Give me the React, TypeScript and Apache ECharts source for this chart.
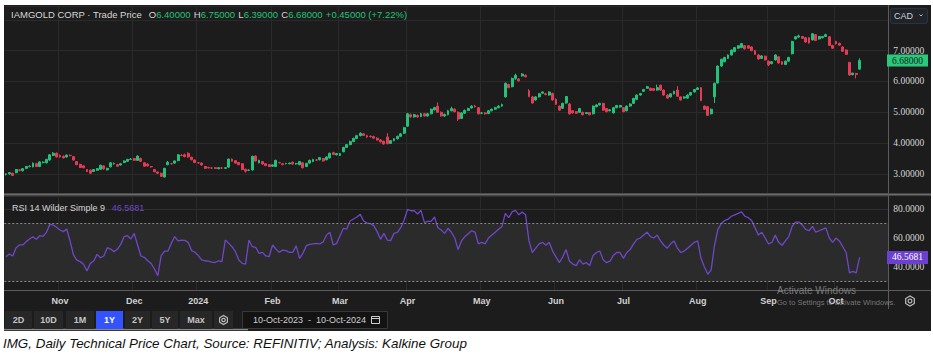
import React, { useEffect, useRef } from 'react';
import * as echarts from 'echarts';

// ---------------- data ----------------
const START = [2023, 9, 10];
const END = [2024, 9, 10];
const PAD_DAYS = 8;
const HOLIDAYS = ['2023-12-25', '2023-12-26', '2024-01-01', '2024-02-19', '2024-03-29', '2024-05-20', '2024-07-01', '2024-08-05', '2024-09-02'];
const MONTH_NAMES = ['Jan', 'Feb', 'Mar', 'Apr', 'May', 'Jun', 'Jul', 'Aug', 'Sep', 'Oct', 'Nov', 'Dec'];

// [open, close, low, high]
const ohlc: number[][] = [
  [2.98, 3.00, 2.95, 3.02], [3.00, 3.04, 2.98, 3.06], [3.02, 2.95, 2.93, 3.04], [3.04, 3.14, 3.02, 3.16], [3.13, 3.12, 3.08, 3.16],
  [3.10, 3.17, 3.08, 3.19], [3.18, 3.24, 3.15, 3.26], [3.24, 3.25, 3.21, 3.28], [3.23, 3.35, 3.21, 3.37], [3.33, 3.24, 3.22, 3.36],
  [3.24, 3.39, 3.22, 3.41], [3.37, 3.38, 3.34, 3.41], [3.36, 3.47, 3.34, 3.49], [3.45, 3.62, 3.43, 3.64], [3.60, 3.67, 3.58, 3.71],
  [3.67, 3.55, 3.53, 3.70], [3.60, 3.55, 3.53, 3.63], [3.57, 3.52, 3.50, 3.60], [3.55, 3.61, 3.53, 3.63], [3.60, 3.60, 3.57, 3.63],
  [3.56, 3.45, 3.43, 3.58], [3.40, 3.30, 3.28, 3.42], [3.31, 3.21, 3.19, 3.33], [3.26, 3.20, 3.18, 3.28], [3.14, 3.08, 3.06, 3.16],
  [3.12, 3.02, 3.00, 3.14], [3.08, 3.14, 3.06, 3.16], [3.12, 3.17, 3.10, 3.19], [3.15, 3.28, 3.13, 3.30], [3.26, 3.16, 3.14, 3.28],
  [3.13, 3.18, 3.11, 3.20], [3.23, 3.36, 3.21, 3.38], [3.33, 3.34, 3.30, 3.37], [3.30, 3.25, 3.23, 3.32], [3.29, 3.33, 3.27, 3.35],
  [3.37, 3.42, 3.35, 3.44], [3.41, 3.47, 3.39, 3.49], [3.47, 3.48, 3.45, 3.51], [3.50, 3.44, 3.42, 3.52], [3.44, 3.58, 3.42, 3.60],
  [3.50, 3.41, 3.39, 3.53], [3.36, 3.25, 3.23, 3.38], [3.32, 3.26, 3.24, 3.34], [3.24, 3.23, 3.20, 3.26], [3.14, 3.07, 3.05, 3.16],
  [3.06, 3.02, 3.00, 3.08], [3.02, 2.92, 2.90, 3.04], [2.90, 3.18, 2.88, 3.20], [3.30, 3.38, 3.28, 3.42], [3.33, 3.33, 3.30, 3.36],
  [3.35, 3.42, 3.33, 3.44], [3.43, 3.62, 3.41, 3.64], [3.60, 3.60, 3.57, 3.64], [3.62, 3.56, 3.54, 3.66], [3.67, 3.55, 3.53, 3.70],
  [3.54, 3.46, 3.44, 3.56], [3.45, 3.37, 3.35, 3.47], [3.36, 3.36, 3.33, 3.39], [3.35, 3.29, 3.27, 3.37], [3.24, 3.18, 3.16, 3.26],
  [3.21, 3.20, 3.17, 3.23], [3.19, 3.19, 3.16, 3.22], [3.20, 3.18, 3.16, 3.22], [3.17, 3.20, 3.15, 3.22], [3.19, 3.19, 3.16, 3.22],
  [3.18, 3.20, 3.16, 3.22], [3.22, 3.48, 3.20, 3.50], [3.48, 3.41, 3.39, 3.50], [3.43, 3.35, 3.33, 3.45], [3.37, 3.30, 3.28, 3.39],
  [3.33, 3.14, 3.12, 3.35], [3.15, 3.09, 3.04, 3.17], [3.12, 3.12, 3.09, 3.15], [3.13, 3.57, 3.11, 3.59], [3.58, 3.42, 3.40, 3.60],
  [3.36, 3.44, 3.34, 3.46], [3.40, 3.32, 3.30, 3.42], [3.33, 3.27, 3.25, 3.35], [3.30, 3.24, 3.22, 3.32], [3.25, 3.29, 3.23, 3.31],
  [3.24, 3.44, 3.22, 3.46], [3.37, 3.36, 3.34, 3.39], [3.33, 3.30, 3.28, 3.35], [3.33, 3.34, 3.31, 3.36], [3.33, 3.35, 3.31, 3.37],
  [3.38, 3.32, 3.30, 3.40], [3.33, 3.33, 3.30, 3.36], [3.30, 3.40, 3.28, 3.42], [3.36, 3.20, 3.18, 3.38], [3.24, 3.34, 3.22, 3.36],
  [3.35, 3.44, 3.33, 3.46], [3.40, 3.47, 3.38, 3.49], [3.45, 3.45, 3.42, 3.48], [3.46, 3.53, 3.44, 3.55], [3.50, 3.42, 3.40, 3.52],
  [3.46, 3.55, 3.44, 3.57], [3.52, 3.67, 3.50, 3.69], [3.69, 3.63, 3.61, 3.72], [3.62, 3.66, 3.60, 3.68], [3.60, 3.66, 3.58, 3.68],
  [3.72, 3.86, 3.70, 3.88], [3.86, 3.95, 3.84, 3.97], [3.95, 4.05, 3.93, 4.08], [4.05, 4.15, 4.03, 4.18], [4.15, 4.24, 4.13, 4.27],
  [4.24, 4.32, 4.22, 4.35], [4.30, 4.25, 4.23, 4.33], [4.24, 4.20, 4.17, 4.27], [4.22, 4.21, 4.18, 4.25], [4.21, 4.16, 4.14, 4.24],
  [4.16, 4.10, 4.08, 4.19], [4.10, 4.04, 4.02, 4.13], [4.06, 3.97, 3.95, 4.08], [4.20, 3.98, 3.96, 4.32], [3.99, 4.08, 3.97, 4.10],
  [4.08, 4.14, 4.06, 4.16], [4.14, 4.22, 4.12, 4.24], [4.22, 4.30, 4.20, 4.33], [4.32, 4.50, 4.30, 4.53], [4.55, 4.95, 4.53, 4.98],
  [4.92, 4.85, 4.83, 4.96], [4.85, 4.92, 4.83, 4.95], [4.90, 4.85, 4.82, 4.93], [4.86, 4.95, 4.84, 4.98], [4.95, 4.88, 4.86, 4.98],
  [4.88, 4.95, 4.86, 4.98], [4.95, 5.10, 4.93, 5.12], [5.08, 5.15, 5.06, 5.18], [5.20, 5.00, 4.98, 5.32], [5.00, 4.88, 4.86, 5.03],
  [4.88, 4.93, 4.85, 4.96], [4.92, 5.05, 4.90, 5.08], [5.05, 5.12, 5.03, 5.18], [5.10, 5.02, 5.00, 5.13], [5.00, 4.78, 4.72, 5.03],
  [4.80, 4.98, 4.78, 5.00], [4.97, 5.06, 4.95, 5.09], [5.06, 5.12, 5.04, 5.15], [5.14, 5.20, 5.12, 5.23], [5.20, 5.18, 5.15, 5.24],
  [5.15, 4.95, 4.93, 5.17], [4.97, 4.98, 4.94, 5.01], [4.98, 4.95, 4.92, 5.01], [4.96, 5.05, 4.94, 5.07], [5.05, 5.10, 5.03, 5.12],
  [5.10, 5.15, 5.08, 5.18], [5.15, 5.20, 5.13, 5.23], [5.20, 5.25, 5.18, 5.28], [5.50, 5.94, 5.48, 5.97], [5.90, 5.80, 5.78, 5.93],
  [5.83, 6.10, 5.81, 6.13], [6.10, 6.20, 6.05, 6.25], [6.08, 6.02, 6.00, 6.11], [6.18, 6.24, 6.16, 6.27], [6.20, 6.15, 6.13, 6.23],
  [5.70, 5.51, 5.49, 5.75], [5.50, 5.30, 5.28, 5.53], [5.40, 5.50, 5.38, 5.52], [5.50, 5.60, 5.48, 5.62], [5.62, 5.66, 5.60, 5.68],
  [5.60, 5.58, 5.55, 5.63], [5.56, 5.66, 5.54, 5.68], [5.61, 5.40, 5.38, 5.64], [5.42, 5.26, 5.24, 5.45], [5.20, 5.07, 5.05, 5.22],
  [5.13, 5.29, 5.11, 5.31], [5.30, 5.51, 5.28, 5.53], [5.27, 4.95, 4.93, 5.30], [5.05, 4.98, 4.96, 5.07], [5.02, 4.97, 4.95, 5.04],
  [5.00, 5.12, 4.98, 5.14], [5.00, 4.92, 4.90, 5.02], [4.96, 4.99, 4.94, 5.01], [4.99, 4.92, 4.90, 5.01], [4.95, 5.20, 4.93, 5.22],
  [5.18, 5.24, 5.16, 5.26], [5.24, 5.29, 5.22, 5.31], [5.29, 5.07, 5.05, 5.31], [5.12, 5.02, 5.00, 5.14], [5.05, 5.08, 5.03, 5.10],
  [4.98, 5.15, 4.96, 5.17], [5.15, 5.22, 5.13, 5.24], [5.17, 5.22, 5.15, 5.24], [5.15, 5.02, 5.00, 5.17], [5.05, 5.20, 5.03, 5.22],
  [5.20, 5.27, 5.18, 5.29], [5.29, 5.45, 5.27, 5.47], [5.42, 5.56, 5.40, 5.58], [5.56, 5.61, 5.54, 5.63], [5.68, 5.74, 5.66, 5.76],
  [5.78, 5.83, 5.76, 5.86], [5.78, 5.71, 5.69, 5.80], [5.77, 5.71, 5.69, 5.79], [5.72, 5.80, 5.70, 5.90], [5.88, 5.72, 5.70, 5.90],
  [5.72, 5.56, 5.54, 5.74], [5.56, 5.46, 5.44, 5.58], [5.50, 5.60, 5.48, 5.62], [5.60, 5.68, 5.58, 5.70], [5.72, 5.52, 5.50, 5.85],
  [5.50, 5.40, 5.38, 5.52], [5.46, 5.50, 5.44, 5.52], [5.46, 5.56, 5.44, 5.58], [5.56, 5.64, 5.54, 5.66], [5.66, 5.74, 5.64, 5.76],
  [5.74, 5.79, 5.72, 5.82], [5.80, 5.38, 5.36, 5.82], [5.20, 5.10, 5.08, 5.22], [5.18, 4.90, 4.88, 5.20], [4.95, 5.10, 4.93, 5.12],
  [5.50, 5.94, 5.30, 5.96], [5.95, 6.50, 5.93, 6.52], [6.50, 6.72, 6.48, 6.74], [6.64, 6.78, 6.62, 6.80], [6.75, 6.86, 6.73, 6.88],
  [6.86, 7.02, 6.84, 7.04], [6.97, 7.10, 6.95, 7.12], [7.08, 7.16, 7.06, 7.18], [7.10, 7.23, 7.08, 7.25], [7.16, 7.06, 7.04, 7.18],
  [7.16, 7.08, 7.06, 7.18], [7.12, 7.00, 6.98, 7.14], [7.00, 6.88, 6.86, 7.02], [6.86, 6.73, 6.71, 6.88], [6.75, 6.83, 6.73, 6.85],
  [6.82, 6.70, 6.68, 6.84], [6.66, 6.54, 6.50, 6.68], [6.58, 6.64, 6.56, 6.66], [6.70, 6.86, 6.68, 6.88], [6.80, 6.60, 6.58, 6.82],
  [6.64, 6.56, 6.54, 6.66], [6.55, 6.66, 6.53, 6.68], [6.66, 6.78, 6.64, 6.80], [6.90, 7.30, 6.88, 7.32], [7.38, 7.45, 7.36, 7.47],
  [7.44, 7.48, 7.42, 7.52], [7.46, 7.40, 7.38, 7.48], [7.42, 7.28, 7.26, 7.44], [7.42, 7.25, 7.23, 7.44], [7.35, 7.55, 7.33, 7.57],
  [7.52, 7.33, 7.31, 7.54], [7.38, 7.46, 7.36, 7.48], [7.42, 7.46, 7.40, 7.48], [7.46, 7.52, 7.44, 7.55], [7.45, 7.17, 7.15, 7.47],
  [7.17, 7.08, 7.06, 7.19], [7.30, 7.22, 7.20, 7.32], [7.24, 7.18, 7.16, 7.26], [7.12, 6.98, 6.96, 7.14], [7.02, 6.88, 6.86, 7.04],
  [6.62, 6.21, 6.19, 6.64], [6.22, 6.27, 6.20, 6.29], [6.26, 6.23, 6.10, 6.28], [6.40, 6.68, 6.39, 6.75],
];

const rsi: number[] = [
  47.1, 49.0, 47.6, 53.3, 55.2, 55.2, 57.5, 59.3, 60.9, 59.1,
  61.6, 61.1, 63.9, 69.4, 69.0, 67.4, 65.5, 64.4, 66.2, 57.9,
  48.3, 44.8, 43.7, 41.9, 37.2, 42.5, 44.1, 48.7, 46.4, 47.6,
  53.3, 52.4, 50.6, 52.2, 55.6, 60.9, 61.6, 59.3, 63.2, 55.2,
  47.6, 46.7, 44.3, 42.5, 38.6, 34.0, 47.8, 51.0, 51.0, 56.3,
  61.0, 58.0, 58.6, 58.4, 57.0, 51.3, 50.2, 47.9, 44.9, 44.3,
  44.0, 43.3, 43.1, 44.3, 43.7, 58.6, 56.3, 54.0, 50.6, 44.8,
  42.5, 42.0, 58.6, 54.0, 53.6, 49.4, 50.1, 47.6, 47.1, 55.2,
  52.4, 50.1, 51.7, 51.3, 50.1, 50.1, 54.7, 46.0, 49.4, 54.7,
  55.6, 55.9, 56.3, 55.9, 57.3, 62.1, 63.9, 55.2, 56.3, 61.6,
  66.7, 66.2, 71.7, 73.1, 74.5, 76.3, 71.7, 70.3, 69.9, 68.5,
  64.4, 59.1, 63.2, 58.6, 58.2, 63.2, 63.9, 67.1, 72.4, 79.7,
  78.8, 78.8, 76.6, 79.1, 70.8, 71.5, 71.5, 74.5, 67.1, 65.5,
  63.2, 66.7,
  64, 60, 52, 58, 61, 63, 65, 64, 56, 57,
  56, 60, 62, 64, 66, 68, 77, 74, 78, 79,
  76, 78, 76, 58, 50, 53, 56, 57, 55, 57,
  51, 47, 43, 47, 52, 44, 42, 41, 45, 42,
  43, 41, 48, 50, 51, 45, 43, 44, 48, 50,
  50, 46, 50, 52, 56, 59, 60, 62, 64, 61,
  60, 62, 58, 55, 53, 56, 58, 53, 50, 51,
  53, 55, 57, 58, 46, 40, 35, 38, 55, 66,
  70, 72, 73, 75, 76, 77, 78, 75, 74, 72,
  67, 62, 64, 60, 56, 57, 62, 57, 55, 58,
  61, 68, 71, 71, 69, 66, 65, 68, 64, 65,
  66, 67, 60, 57, 60, 58, 54, 50, 36, 37,
  36, 46.5681,
];

const RANGE_BUTTONS = ['2D', '10D', '1M', '1Y', '2Y', '5Y', 'Max'];
const ACTIVE_RANGE = '1Y';

// ---------------- helpers ----------------
function buildDates(): string[] {
  const out: string[] = [];
  const d = new Date(Date.UTC(START[0], START[1], START[2]));
  const end = new Date(Date.UTC(END[0], END[1], END[2]));
  let pad = 0;
  while (d <= end || pad < PAD_DAYS) {
    const s = d.toISOString().slice(0, 10);
    const dow = d.getUTCDay();
    if (dow !== 0 && dow !== 6 && !HOLIDAYS.includes(s)) {
      if (d > end) pad++;
      out.push(s);
    }
    d.setUTCDate(d.getUTCDate() + 1);
  }
  return out;
}

const UP = '#22c27a';
const DOWN = '#e63b55';
const PURPLE = '#6e47c9';
const BG = '#1c1c1c';
const SANS = '"Liberation Sans", Arial, sans-serif';
const SERIF = '"Liberation Serif", "Times New Roman", serif';

export default function App() {
  const ref = useRef<HTMLDivElement>(null);

  useEffect(() => {
    document.body.style.margin = '0';
    document.body.style.background = '#ffffff';
    const chart = echarts.init(ref.current!, null, { renderer: 'svg' });

    const dates = buildDates();
    const isMonthStart = (i: number) => i > 0 && i < dates.length && dates[i].slice(0, 7) !== dates[i - 1].slice(0, 7);
    const monthLabel = (v: string) => {
      const m = Number(v.slice(5, 7));
      return m === 1 ? v.slice(0, 4) : MONTH_NAMES[m - 1];
    };

    const last = ohlc[ohlc.length - 1];
    const prevClose = ohlc[ohlc.length - 2][1];
    const chg = last[1] - prevClose;
    const pct = (chg / prevClose) * 100;
    const lastRsi = rsi[rsi.length - 1];

    const GRID_LEFT = 4.3;
    const GRID_W = 884;

    const xBase = {
      type: 'category' as const,
      data: dates,
      boundaryGap: true,
      axisLine: { show: false },
      axisTick: { show: false },
      splitLine: { show: true, interval: (i: number) => isMonthStart(i), lineStyle: { color: '#2a2a2a', width: 1 } },
    };

    const option: any = {
      animation: false,
      backgroundColor: '#ffffff',
      grid: [
        { left: GRID_LEFT, top: 6, width: GRID_W, height: 187 },
        { left: GRID_LEFT, top: 196, width: GRID_W, height: 94 },
      ],
      xAxis: [
        { ...xBase, gridIndex: 0, axisLabel: { show: false } },
        {
          ...xBase,
          gridIndex: 1,
          axisLabel: {
            show: true,
            interval: (i: number) => isMonthStart(i),
            formatter: monthLabel,
            color: '#d2d2d2',
            fontSize: 9,
            fontWeight: 'bold',
            fontFamily: SANS,
            margin: 6,
          },
        },
      ],
      yAxis: [
        {
          type: 'value',
          gridIndex: 0,
          position: 'right',
          min: 2.38,
          max: 8.45,
          minInterval: 1,
          maxInterval: 1,
          axisLine: { show: false },
          axisTick: { show: false },
          splitLine: { lineStyle: { color: '#2a2a2a' } },
          axisLabel: {
            showMinLabel: false,
            showMaxLabel: false,
            formatter: (v: number) => (v > 7.5 ? '' : v.toFixed(5)),
            color: '#d6d6d6',
            fontFamily: SERIF,
            fontSize: 9.5,
            margin: 5,
            align: 'left',
          },
        },
        {
          type: 'value',
          gridIndex: 1,
          position: 'right',
          min: 24.14,
          max: 88.97,
          minInterval: 20,
          maxInterval: 20,
          axisLine: { show: false },
          axisTick: { show: false },
          splitLine: { lineStyle: { color: '#2f2f2f' } },
          axisLabel: {
            showMinLabel: false,
            showMaxLabel: false,
            formatter: (v: number) => v.toFixed(4),
            color: '#d6d6d6',
            fontFamily: SERIF,
            fontSize: 9.5,
            margin: 5,
            align: 'left',
          },
        },
      ],
      series: [
        {
          type: 'candlestick',
          xAxisIndex: 0,
          yAxisIndex: 0,
          data: ohlc,
          barWidth: 2.4,
          itemStyle: { color: UP, color0: DOWN, borderColor: UP, borderColor0: DOWN, borderWidth: 1 },
        },
        {
          type: 'line',
          xAxisIndex: 1,
          yAxisIndex: 1,
          data: rsi,
          symbol: 'none',
          lineStyle: { color: PURPLE, width: 1.3 },
          markArea: { silent: true, itemStyle: { color: '#2b2b2b' }, data: [[{ yAxis: 30 }, { yAxis: 70 }]] },
          markLine: {
            silent: true,
            symbol: 'none',
            label: { show: false },
            lineStyle: { color: '#8a8a8a', type: [2, 2], width: 1 },
            data: [{ yAxis: 70 }, { yAxis: 30 }],
          },
        },
      ],
    };

    chart.setOption(option);

    const yPrice = chart.convertToPixel({ yAxisIndex: 0 } as any, last[1]) as number;
    const yRsi = chart.convertToPixel({ yAxisIndex: 1 } as any, lastRsi) as number;

    const fg = 50;
    const graphic: any[] = [];
    // background screenshot panel
    graphic.push({ type: 'rect', z: -100, shape: { x: 4, y: 5, width: 927, height: 326 }, style: { fill: BG } });
    // separators
    graphic.push({ type: 'line', z: fg, shape: { x1: 4, y1: 194.5, x2: 931, y2: 194.5 }, style: { stroke: '#6c6c6c', lineWidth: 2 } });
    graphic.push({ type: 'line', z: fg, shape: { x1: 4, y1: 290.5, x2: 931, y2: 290.5 }, style: { stroke: '#5c5c5c', lineWidth: 1 } });
    graphic.push({ type: 'line', z: fg, shape: { x1: 888.5, y1: 5, x2: 888.5, y2: 309 }, style: { stroke: '#5c5c5c', lineWidth: 1 } });
    graphic.push({ type: 'line', z: fg, shape: { x1: 4, y1: 329.5, x2: 248, y2: 329.5 }, style: { stroke: '#8a8a8a', lineWidth: 1.5 } });

    // header
    const f5 = (v: number) => v.toFixed(5);
    graphic.push({
      type: 'text',
      z: fg,
      x: 11,
      y: 14,
      style: {
        text: `{w|IAMGOLD CORP · Trade Price}  {w|O}{g|${f5(last[0])}} {w|H}{g|${f5(last[3])}} {w|L}{g|${f5(last[2])}} {w|C}{g|${f5(last[1])}} {g|${chg >= 0 ? '+' : ''}${f5(chg)} (${pct >= 0 ? '+' : ''}${pct.toFixed(2)}%)}`,
        verticalAlign: 'middle',
        rich: {
          w: { fill: '#d6d6d6', fontSize: 9.5, fontFamily: SANS },
          g: { fill: UP, fontSize: 9.5, fontFamily: SANS },
        },
      },
    });
    // RSI title
    graphic.push({
      type: 'text',
      z: fg,
      x: 12,
      y: 208,
      style: {
        text: `{w|RSI 14 Wilder Simple 9}  {p|${lastRsi.toFixed(4)}}`,
        verticalAlign: 'middle',
        rich: {
          w: { fill: '#d6d6d6', fontSize: 9, fontFamily: SANS },
          p: { fill: PURPLE, fontSize: 9, fontFamily: SANS },
        },
      },
    });

    // CAD dropdown
    graphic.push({ type: 'rect', z: fg, shape: { x: 890.5, y: 8.5, width: 37, height: 15, r: 2 }, style: { fill: '#1f232a', stroke: '#2d333d', lineWidth: 1 } });
    graphic.push({ type: 'text', z: fg + 1, x: 894, y: 16, style: { text: 'CAD', fill: '#d0d0d0', fontSize: 9, fontFamily: SANS, verticalAlign: 'middle' } });
    graphic.push({ type: 'polyline', z: fg + 1, shape: { points: [[919.5, 14.5], [921, 16], [922.5, 14.5]] }, style: { stroke: '#bbbbbb', lineWidth: 1, fill: 'none' } });

    // last price tag
    graphic.push({ type: 'rect', z: fg, shape: { x: 887, y: yPrice - 6, width: 41, height: 12 }, style: { fill: '#2bc77b' } });
    graphic.push({ type: 'text', z: fg + 1, x: 907.5, y: yPrice, style: { text: f5(last[1]), fill: '#10261a', fontSize: 9.5, fontFamily: SERIF, align: 'center', verticalAlign: 'middle' } });
    // RSI tag
    graphic.push({ type: 'rect', z: fg, shape: { x: 887, y: yRsi - 6.5, width: 41, height: 13 }, style: { fill: '#6a40cc' } });
    graphic.push({ type: 'text', z: fg + 1, x: 907.5, y: yRsi, style: { text: lastRsi.toFixed(4), fill: '#ffffff', fontSize: 9.5, fontFamily: SERIF, align: 'center', verticalAlign: 'middle' } });

    // gear icon helper
    const gear = (cx: number, cy: number, r: number) => {
      const pts: number[][] = [];
      for (let k = 0; k < 6; k++) {
        const a = (Math.PI / 3) * k + Math.PI / 6;
        pts.push([cx + r * Math.cos(a), cy + r * Math.sin(a)]);
      }
      graphic.push({ type: 'polygon', z: fg, shape: { points: pts }, style: { fill: 'none', stroke: '#bdbdbd', lineWidth: 1.2 } });
      graphic.push({ type: 'circle', z: fg, shape: { cx, cy, r: r * 0.38 }, style: { fill: 'none', stroke: '#bdbdbd', lineWidth: 1.2 } });
    };
    gear(910, 301, 5);

    // Activate windows watermark
    graphic.push({ type: 'text', z: fg + 2, x: 777, y: 290, style: { text: 'Activate Windows', fill: 'rgba(160,160,160,0.7)', fontSize: 10, fontFamily: SANS, verticalAlign: 'middle' } });
    graphic.push({ type: 'text', z: fg + 2, x: 777, y: 302, style: { text: 'Go to Settings to activate Windows.', fill: 'rgba(160,160,160,0.7)', fontSize: 7.5, fontFamily: SANS, verticalAlign: 'middle' } });

    // toolbar
    const btnX = [[5, 32], [34, 63], [66, 94], [96, 123], [125, 150], [152, 178], [180, 212]];
    RANGE_BUTTONS.forEach((b, k) => {
      const [x0, x1] = btnX[k];
      const active = b === ACTIVE_RANGE;
      graphic.push({ type: 'rect', z: fg, shape: { x: x0, y: 311, width: x1 - x0, height: 18 }, style: { fill: active ? '#3253ff' : '#272727' } });
      graphic.push({ type: 'text', z: fg + 1, x: (x0 + x1) / 2, y: 320, style: { text: b, fill: active ? '#ffffff' : '#c4c4c4', fontSize: 9, fontWeight: 'bold', fontFamily: SANS, align: 'center', verticalAlign: 'middle' } });
    });
    graphic.push({ type: 'rect', z: fg, shape: { x: 214, y: 311, width: 19, height: 18 }, style: { fill: '#272727' } });
    gear(223.5, 320, 4.5);
    graphic.push({ type: 'rect', z: fg, shape: { x: 242.5, y: 311.5, width: 145, height: 17 }, style: { fill: '#131313', stroke: '#383838', lineWidth: 1 } });
    graphic.push({ type: 'text', z: fg + 1, x: 253, y: 320, style: { text: '10-Oct-2023  -  10-Oct-2024', fill: '#d0d0d0', fontSize: 9, fontFamily: SANS, verticalAlign: 'middle' } });
    graphic.push({ type: 'rect', z: fg + 1, shape: { x: 371.5, y: 316.5, width: 8, height: 7 }, style: { fill: 'none', stroke: '#cfcfcf', lineWidth: 1 } });
    graphic.push({ type: 'line', z: fg + 1, shape: { x1: 371.5, y1: 318.5, x2: 379.5, y2: 318.5 }, style: { stroke: '#cfcfcf', lineWidth: 1 } });

    // caption
    graphic.push({
      type: 'text',
      z: fg,
      x: 3,
      y: 343,
      style: {
        text: 'IMG, Daily Technical Price Chart, Source: REFINITIV; Analysis: Kalkine Group',
        fill: '#111111',
        fontSize: 13.4,
        fontStyle: 'italic',
        fontFamily: SANS,
        verticalAlign: 'middle',
      },
    });

    chart.setOption({ graphic });

    return () => chart.dispose();
  }, []);

  return <div ref={ref} style={{ position: 'absolute', left: 0, top: 0, width: 933, height: 354 }} />;
}
